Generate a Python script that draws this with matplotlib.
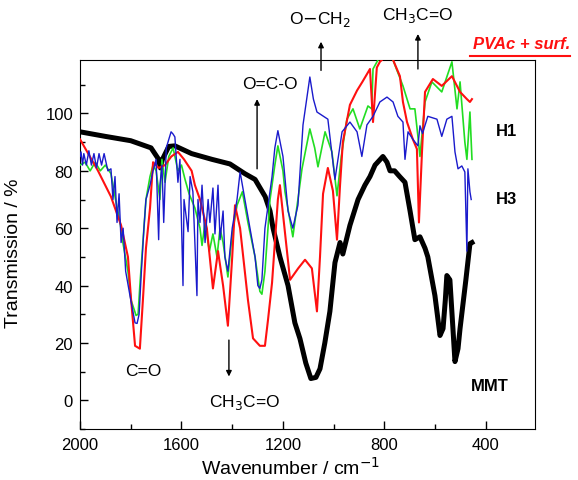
import matplotlib
matplotlib.use("Agg")
import matplotlib.pyplot as plt
from matplotlib.ticker import MultipleLocator

plt.rcParams['font.family'] = ['Liberation Sans', 'DejaVu Sans']

# MMT (black, thick)
mmt_w = [2000, 1900, 1800, 1720, 1690, 1683, 1675, 1650, 1626, 1560, 1480, 1409, 1350, 1310,
         1270, 1251, 1239, 1212, 1180, 1153, 1133, 1110, 1090, 1070, 1054, 1035, 1015, 995,
         975, 964, 950, 936, 904, 877, 857, 837, 806, 790, 778, 760, 740, 719, 699, 680, 660,
         640, 629, 601, 581, 569, 560, 554, 542, 530, 522, 510, 502, 479, 463, 455]
mmt_t = [93.6, 92, 90.5, 88, 84, 81, 84, 88.5, 88.7, 86, 84, 82.4, 79, 77,
         71, 66, 60, 50, 40, 27, 21.5, 13, 7.6, 8, 11, 20, 31, 48,
         55, 51, 56, 61, 70, 75, 78, 82, 85, 83, 80, 80, 78, 76, 66, 56, 57,
         53, 50, 36.5, 22.6, 25, 35, 43.5, 42, 25, 13.5, 18, 25, 42, 54.6, 55]

# red spectrum
red_w = [2000, 1996, 1929, 1878, 1838, 1811, 1799, 1783, 1764, 1752, 1740, 1724, 1712, 1690,
         1665, 1640, 1614, 1590, 1560, 1547, 1527, 1500, 1476, 1456, 1436, 1417, 1400, 1389,
         1369, 1338, 1318, 1291, 1271, 1259, 1243, 1220, 1212, 1200, 1172, 1140, 1113, 1086,
         1066, 1054, 1042, 1023, 1003, 987, 975, 964, 936, 908, 887, 857, 845, 830, 818, 800,
         770, 739, 727, 711, 688, 672, 664, 652, 640, 609, 574, 534, 502, 475, 463, 455]
red_t = [91, 90.4, 80, 71, 61, 50, 35.5, 19, 18, 35, 53, 67, 83, 81,
         82, 85, 86.6, 84, 80, 75, 70, 60, 39, 52, 40, 26, 50, 68,
         60, 35, 21.6, 19, 19, 28, 41, 70, 75, 65, 42, 46, 49, 46,
         31, 50, 72, 81, 73, 56, 75, 90, 103, 108, 111, 115.5, 97, 116, 118, 119.5,
         119.5, 113, 104, 97, 91, 87.6, 62, 86.6, 107.5, 112, 109.6, 113, 107.5, 105, 104, 105]

# green spectrum
green_w = [2000, 1980, 1960, 1940, 1920, 1900, 1878, 1860, 1842, 1831, 1811, 1799, 1779, 1771,
           1764, 1752, 1740, 1724, 1712, 1700, 1685, 1677, 1665, 1650, 1633, 1614, 1600, 1586,
           1570, 1547, 1527, 1519, 1507, 1490, 1476, 1460, 1448, 1436, 1417, 1400, 1381, 1360,
           1338, 1310, 1291, 1283, 1271, 1251, 1232, 1220, 1200, 1192, 1161, 1141, 1125, 1094,
           1075, 1062, 1034, 1007, 987, 970, 948, 924, 897, 865, 850, 845, 820, 770, 727, 699,
           680, 668, 660, 640, 613, 574, 534, 514, 502, 483, 475, 463, 455]
green_t = [82, 83, 80, 83, 80, 82, 79, 70, 62, 55, 45, 35, 29.6, 30,
           40, 55, 70, 78, 82, 80, 70, 84, 76, 85, 88, 80, 82, 77,
           72, 67, 60, 54, 62, 52, 58, 50, 60, 55, 43, 58, 68, 72.7,
           62, 50, 38, 37, 45, 70, 82, 88.7, 80, 72.7, 57, 70, 80.7, 94.6,
           88, 81.4, 93.6, 86.6, 71.3, 85, 98, 101.6, 94.6, 102.6, 101.6, 115.5, 119.5, 119.5, 109.6, 101.6,
           101.6, 92, 85, 104, 111, 107.5, 118, 101.6, 111, 90, 84, 100.5, 84]

# blue spectrum
blue_w = [2000, 1996, 1990, 1985, 1975, 1965, 1955, 1945, 1935, 1925, 1915, 1905, 1890, 1878,
          1870, 1862, 1854, 1846, 1838, 1830, 1820, 1800, 1783, 1775, 1767, 1758, 1748, 1740,
          1724, 1712, 1700, 1690, 1685, 1677, 1670, 1660, 1641, 1633, 1626, 1614, 1606, 1594,
          1590, 1574, 1566, 1555, 1539, 1535, 1527, 1519, 1507, 1495, 1488, 1476, 1468, 1456,
          1448, 1436, 1429, 1417, 1400, 1381, 1369, 1350, 1322, 1310, 1299, 1291, 1283, 1271,
          1243, 1232, 1220, 1200, 1180, 1161, 1141, 1121, 1094, 1080, 1066, 1023, 995, 967,
          936, 908, 889, 869, 845, 818, 790, 766, 747, 727, 719, 707, 688, 668, 660, 650,
          629, 593, 574, 554, 534, 522, 510, 495, 483, 475, 471, 463, 458]
blue_t = [85, 86.6, 82, 86, 82, 87, 82, 86, 81, 86, 82, 86, 80, 80.7,
          70, 78, 62, 72, 55, 60, 45, 35, 27, 26.8, 30, 45, 60, 70,
          75, 80, 84, 56, 75, 82, 62, 88, 93.6, 92.8, 91.8, 76, 84, 40,
          70, 58.8, 78, 72.7, 36.5, 70, 62, 75, 55, 70, 62, 74, 58, 75,
          56, 66, 50, 45, 60, 70, 79.6, 70, 56, 50, 40, 39, 42, 60,
          78, 88, 94, 85, 66, 60, 68, 96, 112.7, 105, 100.5, 98, 77, 93.6,
          97, 93.6, 85, 96, 99, 104, 105.7, 104, 99, 97, 84, 93.6, 91, 88.7, 95.7, 93,
          99, 98, 92, 98, 99, 86.6, 80.7, 81.7, 79.6, 52, 80.7, 72.7, 70]

fig = plt.figure(figsize=(5.78, 4.81), dpi=100)
ax = fig.add_axes([0.1384, 0.106, 0.787, 0.767])

ax.plot(mmt_w, mmt_t, color='black', lw=3.6, zorder=2)
ax.plot(green_w, green_t, color='#22dd22', lw=1.2, zorder=3)
ax.plot(red_w, red_t, color='#ff1010', lw=1.5, zorder=4)
ax.plot(blue_w, blue_t, color='#1a1acc', lw=1.0, zorder=5)

ax.set_xlim(2000, 207)
ax.set_ylim(-10, 118.6)
ax.xaxis.set_major_locator(MultipleLocator(400))
ax.xaxis.set_minor_locator(MultipleLocator(200))
ax.yaxis.set_major_locator(MultipleLocator(20))
ax.yaxis.set_minor_locator(MultipleLocator(10))
ax.tick_params(which='both', direction='in', top=False, right=False, labelsize=12)
ax.tick_params(which='major', length=6, width=1)
ax.tick_params(which='minor', length=3.5, width=1)
ax.tick_params(axis='x', pad=6)
ax.tick_params(axis='y', pad=5)

ax.set_xlabel('Wavenumber / cm$^{-1}$', fontsize=14)
ax.set_ylabel('Transmission / %', fontsize=14)
ax.xaxis.set_label_coords(0.464, -0.072)
ax.yaxis.set_label_coords(-0.128, 0.48)

arrow = dict(arrowstyle='-|>', color='black', lw=1, mutation_scale=8, shrinkA=0, shrinkB=0)
ax.annotate('', xy=(1302, 105), xytext=(1302, 80.7), arrowprops=arrow)
ax.text(1251, 110.5, 'O=C-O', fontsize=12.5, ha='center', va='center')
ax.annotate('', xy=(1050, 125), xytext=(1050, 115), arrowprops=arrow, annotation_clip=False)
ax.text(1054, 133, 'O$-$CH$_2$', fontsize=12.5, ha='center', va='center', clip_on=False)
ax.annotate('', xy=(668, 127.7), xytext=(668, 115.5), arrowprops=arrow, annotation_clip=False)
ax.text(668, 134.5, 'CH$_3$C=O', fontsize=12.5, ha='center', va='center', clip_on=False)
ax.annotate('', xy=(1413, 8.3), xytext=(1413, 21), arrowprops=arrow)
ax.text(1350, -0.5, 'CH$_3$C=O', fontsize=12.5, ha='center', va='center')
ax.text(1752, 10.4, 'C=O', fontsize=12.5, ha='center', va='center')

ax.text(317, 94, 'H1', fontsize=12, fontweight='bold', ha='center', va='center')
ax.text(317, 70.5, 'H3', fontsize=12, fontweight='bold', ha='center', va='center')
ax.text(384, 5, 'MMT', fontsize=12, fontweight='bold', ha='center', va='center')

ax.text(0.971, 1.045, 'PVAc + surf.', transform=ax.transAxes, color='#ff1010', fontsize=12,
        fontweight='bold', fontstyle='italic', ha='center', va='center', clip_on=False)
ax.plot([0.857, 1.077], [1.011, 1.011], transform=ax.transAxes, color='#ff1010', lw=1.5,
        clip_on=False)

fig.savefig('out.png', dpi=100)
